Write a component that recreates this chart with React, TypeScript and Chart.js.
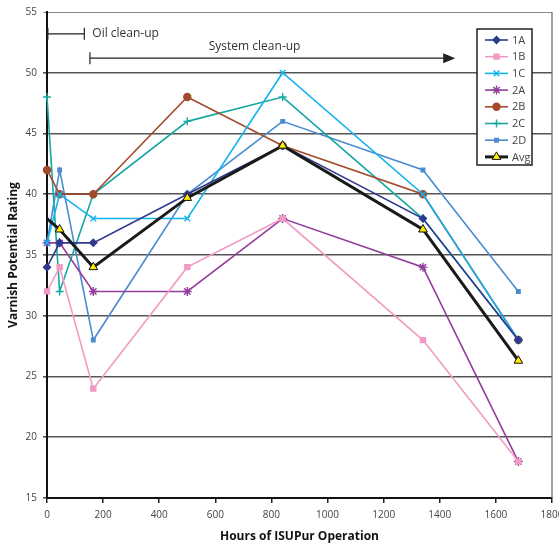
import React, { useEffect, useRef } from "react";
import { Chart, registerables } from "chart.js";
import { drawPoint } from "chart.js/helpers";

Chart.register(...registerables);

const hours = [0, 45, 165, 500, 840, 1340, 1680];
const s1A = [34, 36, 36, 40, 44, 38, 28];
const s1B = [32, 34, 24, 34, 38, 28, 18];
const s1C = [36, 40, 38, 38, 50, 40, 28];
const s2A = [36, 36, 32, 32, 38, 34, 18];
const s2B = [42, 40, 40, 48, 44, 40, 28];
const s2C = [48, 32, 40, 46, 48, 38, 28];
const s2D = [36, 42, 28, 40, 46, 42, 32];
const sAvg = [38, 37.1, 34, 39.7, 44, 37.1, 26.3];

const seriesNames = ["1A", "1B", "1C", "2A", "2B", "2C", "2D", "Avg"];
const seriesValues = [s1A, s1B, s1C, s2A, s2B, s2C, s2D, sAvg];
const seriesColors = ["#2e3a8f", "#f29ac3", "#12b2ee", "#923d9b", "#a34a2c", "#16a9a3", "#4c8bcf", "#1a1a1a"];
const seriesMarkers = ["rectRot", "rect", "crossRot", "star", "circle", "cross", "rect", "triangle"];
const markerSizes = [3.5, 3.5, 4, 4.5, 3.5, 4, 2.5, 5];

const yTicksMin = 15;
const yTicksMax = 55;
const xMax = 1800;

const FONT = "'Open Sans', 'DejaVu Sans', sans-serif";

const overlayPlugin = {
  id: "overlay",
  afterDraw(chart: any) {
    const { ctx, chartArea, scales } = chart;
    const xs = scales.x;
    const ys = scales.y;
    ctx.save();
    // right border
    ctx.strokeStyle = "#666";
    ctx.lineWidth = 1.2;
    ctx.beginPath();
    ctx.moveTo(chartArea.right, chartArea.top);
    ctx.lineTo(chartArea.right, chartArea.bottom);
    ctx.stroke();

    // Oil clean-up annotation
    ctx.strokeStyle = "#222";
    ctx.lineWidth = 1.2;
    const oy = ys.getPixelForValue(53.2);
    const ox1 = xs.getPixelForValue(3);
    const ox2 = xs.getPixelForValue(133);
    ctx.beginPath();
    ctx.moveTo(ox1, oy);
    ctx.lineTo(ox2, oy);
    ctx.moveTo(ox1, oy - 6);
    ctx.lineTo(ox1, oy + 6);
    ctx.moveTo(ox2, oy - 6);
    ctx.lineTo(ox2, oy + 6);
    ctx.stroke();
    ctx.fillStyle = "#333";
    ctx.font = `12px ${FONT}`;
    ctx.textAlign = "left";
    ctx.textBaseline = "middle";
    ctx.fillText("Oil clean-up", ox2 + 8, oy);

    // System clean-up annotation
    const sy = ys.getPixelForValue(51.2);
    const sx1 = xs.getPixelForValue(153);
    const sx2 = xs.getPixelForValue(1455);
    ctx.beginPath();
    ctx.moveTo(sx1, sy);
    ctx.lineTo(sx2 - 8, sy);
    ctx.moveTo(sx1, sy - 6);
    ctx.lineTo(sx1, sy + 6);
    ctx.stroke();
    ctx.fillStyle = "#222";
    ctx.beginPath();
    ctx.moveTo(sx2, sy);
    ctx.lineTo(sx2 - 12, sy - 5);
    ctx.lineTo(sx2 - 12, sy + 5);
    ctx.closePath();
    ctx.fill();
    ctx.fillStyle = "#333";
    ctx.textAlign = "center";
    ctx.fillText("System clean-up", xs.getPixelForValue(740), sy - 12);

    // Legend box
    const lx = 477;
    const ly = 29;
    const lw = 55;
    const lh = 136;
    ctx.fillStyle = "#fff";
    ctx.fillRect(lx, ly, lw, lh);
    ctx.strokeStyle = "#222";
    ctx.lineWidth = 1.5;
    ctx.strokeRect(lx, ly, lw, lh);
    chart.data.datasets.forEach((ds: any, i: number) => {
      const yy = ly + 11 + i * 16.7;
      ctx.strokeStyle = ds.borderColor;
      ctx.lineWidth = ds.borderWidth;
      ctx.beginPath();
      ctx.moveTo(lx + 8, yy);
      ctx.lineTo(lx + 31, yy);
      ctx.stroke();
      const opts = {
        pointStyle: ds.pointStyle,
        radius: markerSizes[i],
        borderWidth: ds.pointBorderWidth ?? 1,
        rotation: 0,
      };
      ctx.fillStyle = ds.pointBackgroundColor;
      ctx.strokeStyle = ds.pointBorderColor;
      ctx.lineWidth = opts.borderWidth;
      drawPoint(ctx, opts as any, lx + 19.5, yy);
      ctx.fillStyle = "#444";
      ctx.font = `11px ${FONT}`;
      ctx.textAlign = "left";
      ctx.textBaseline = "middle";
      ctx.fillText(ds.label, lx + 35, yy + 0.5);
    });
    ctx.restore();
  },
};

export default function App() {
  const ref = useRef<HTMLCanvasElement>(null);
  useEffect(() => {
    if (!ref.current) return;
    const datasets = seriesNames.map((name, i) => {
      const isAvg = name === "Avg";
      return {
        label: name,
        data: hours.map((h, j) => ({ x: h, y: seriesValues[i][j] })),
        borderColor: seriesColors[i],
        backgroundColor: seriesColors[i],
        borderWidth: isAvg ? 3 : 1.6,
        pointStyle: seriesMarkers[i],
        pointRadius: isAvg ? hours.map((_, j) => (j === 0 ? 0 : markerSizes[i])) : markerSizes[i],
        pointBackgroundColor: isAvg ? "#ffee00" : seriesColors[i],
        pointBorderColor: isAvg ? "#111" : seriesColors[i],
        pointBorderWidth: isAvg ? 1 : 1.4,
        tension: 0,
        order: isAvg ? -1 : 0,
        clip: false as any,
      };
    });
    const chart = new Chart(ref.current, {
      type: "line",
      data: { datasets },
      options: {
        animation: false,
        responsive: false,
        maintainAspectRatio: false,
        layout: { padding: { top: 12, right: 7, left: 0, bottom: 0 } },
        plugins: { legend: { display: false }, tooltip: { enabled: false } },
        scales: {
          x: {
            type: "linear",
            min: 0,
            max: xMax,
            ticks: { stepSize: 200, color: "#444", font: { size: 10, family: FONT }, padding: 6, maxRotation: 0, autoSkip: false, callback: (v: any) => String(v) },
            grid: { drawOnChartArea: false, drawTicks: true, tickLength: 5, color: "#222", lineWidth: 1.5 },
            border: { color: "#111", width: 2 },
            title: { display: true, text: "Hours of ISUPur Operation", color: "#111", font: { size: 12, weight: "bold", family: FONT }, padding: { top: 0, bottom: 2 } },
            afterFit: (s: any) => { s.height = 48; s.paddingRight = 0; s.paddingLeft = 0; },
          },
          y: {
            type: "linear",
            min: yTicksMin,
            max: yTicksMax,
            ticks: { stepSize: 5, color: "#444", font: { size: 10, family: FONT }, padding: 6 },
            grid: { color: (c: any) => (c.tick && c.tick.value === 55 ? "#888" : "#555"), lineWidth: (c: any) => (c.tick && c.tick.value === 55 ? 1 : 1.6), tickLength: 4, drawTicks: true },
            border: { color: "#111", width: 2 },
            title: { display: true, text: "Varnish Potential Rating", color: "#111", font: { size: 12, weight: "bold", family: FONT }, padding: { top: 6, bottom: 0 } },
            afterFit: (s: any) => { s.width = 47; s.paddingTop = 0; s.paddingBottom = 0; },
          },
        },
      },
      plugins: [overlayPlugin],
    });
    return () => chart.destroy();
  }, []);
  return (
    <div style={{ position: "absolute", left: 0, top: 0, width: 559, height: 546, background: "#fff" }}>
      <canvas ref={ref} width={559} height={546} style={{ display: "block" }} />
    </div>
  );
}
